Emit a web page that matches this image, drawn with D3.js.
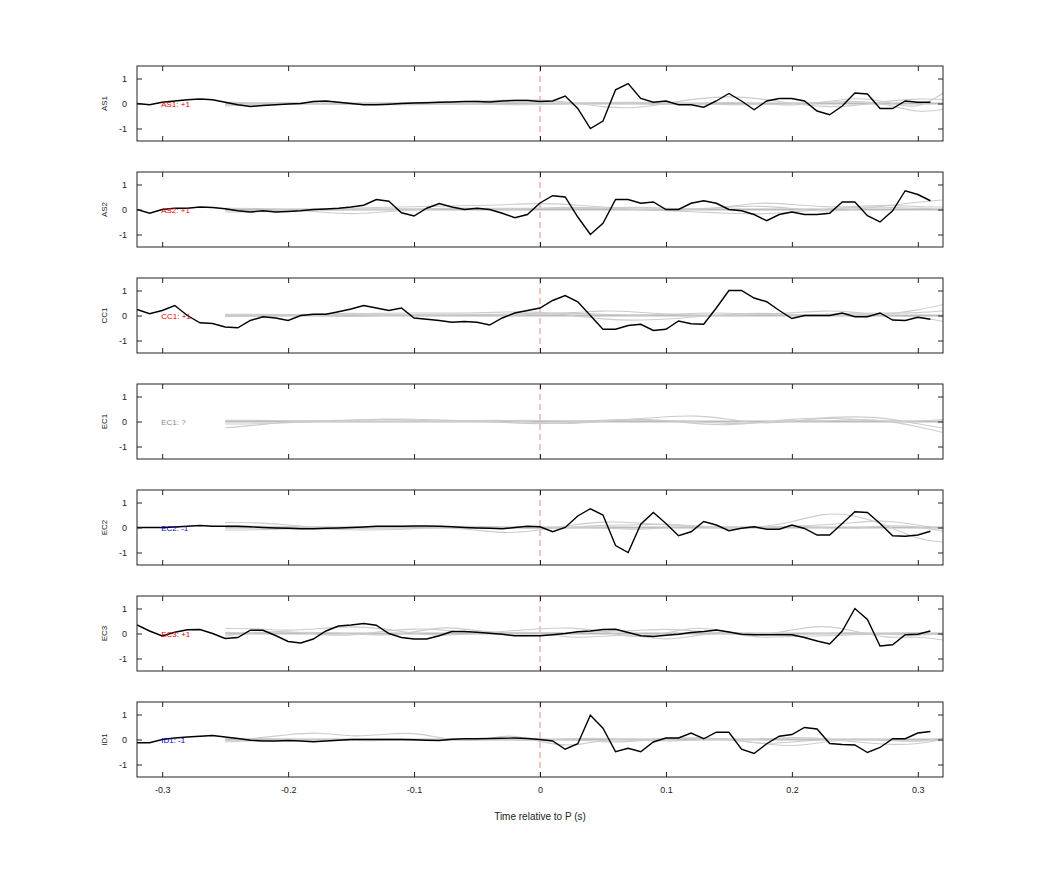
<!DOCTYPE html>
<html>
<head>
<meta charset="utf-8">
<script src="https://cdn.jsdelivr.net/npm/d3@7"></script>
<style>
  body { margin: 0; background: #fff; }
  text { font-family: "Liberation Sans", Arial, sans-serif; }
</style>
</head>
<body>
<svg id="chart" width="1042" height="875"></svg>
<script>
// stations and their polarity labels
const stations = ["AS1", "AS2", "CC1", "EC1", "EC2", "EC3", "ID1"];
const polarity = ["+1", "+1", "+1", "?", "-1", "+1", "-1"];
const xTicks = [-0.3, -0.2, -0.1, 0, 0.1, 0.2, 0.3];
const yTicks = [-1, 0, 1];

// black trace: t = -0.32 .. 0.31 every 0.01
const traceTimes = d3.range(64).map(i => +(-0.32 + i * 0.01).toFixed(2));
const AS1 = [0,-0.05,0.05,0.1,0.15,0.18,0.15,0.05,-0.05,-0.12,
  -0.08,-0.05,-0.02,0.0,0.08,0.1,0.05,0,-0.05,-0.05,
  -0.03,0,0.02,0.03,0.05,0.06,0.08,0.08,0.06,0.1,
  0.12,0.12,0.08,0.1,0.3,-0.2,-1.0,-0.7,0.55,0.8,
  0.2,0.05,0.1,-0.05,-0.05,-0.15,0.1,0.4,0.1,-0.25,
  0.1,0.2,0.2,0.1,-0.3,-0.45,-0.1,0.42,0.38,-0.2,
  -0.2,0.1,0.05,0.05];
const AS2 = [0,-0.15,0,0.05,0.05,0.1,0.08,0.03,-0.05,-0.1,-0.05,-0.1,-0.08,-0.05,0.0,0.02,0.05,0.1,0.17,
  0.4,0.33,-0.13,-0.26,0.05,0.24,0.1,0,0.05,0,-0.15,-0.33,-0.2,
  0.26,0.55,0.5,-0.3,-1.0,-0.55,0.4,0.4,0.25,0.3,0.0,0,0.25,0.35,0.25,0.0,-0.05,-0.2,-0.45,-0.2,
  -0.1,-0.2,-0.2,-0.15,0.3,0.3,-0.25,-0.5,-0.05,0.75,0.6,0.35];
const CC1 = [0.24,0.07,0.2,0.4,0.0,-0.29,-0.32,-0.46,-0.49,-0.2,-0.05,-0.1,-0.2,0.0,0.05,0.05,
  0.15,0.26,0.4,0.3,0.2,0.3,-0.1,-0.15,-0.2,-0.27,-0.24,-0.27,-0.38,-0.1,0.1,0.2,
  0.3,0.6,0.8,0.55,0,-0.55,-0.55,-0.4,-0.35,-0.6,-0.55,-0.22,-0.33,-0.35,0.3,1.0,
  1.0,0.7,0.55,0.2,-0.12,0,0,0,0.1,-0.05,-0.05,0.1,-0.18,-0.2,-0.07,-0.15];
const EC2 = [0,0,0,0.02,0.05,0.08,0.05,0.05,0.05,0.03,0,-0.02,-0.03,-0.05,-0.05,-0.03,
  -0.02,0,0.02,0.05,0.05,0.05,0.06,0.06,0.05,0.03,0,-0.02,-0.03,-0.05,0,0.05,
  0.03,-0.17,0,0.46,0.75,0.5,-0.72,-1.0,0.13,0.6,0.16,-0.33,-0.17,0.24,0.1,-0.13,
  -0.03,0.03,-0.07,-0.07,0.1,-0.04,-0.3,-0.3,0.16,0.63,0.6,0.16,-0.33,-0.35,-0.3,-0.15];
const EC3 = [0.34,0.1,-0.1,0.05,0.15,0.16,0,-0.2,-0.16,0.13,0.13,-0.08,-0.32,-0.38,-0.22,0.1,
  0.3,0.34,0.4,0.33,0,-0.16,-0.22,-0.22,-0.09,0.08,0.08,0.05,0.01,-0.03,-0.09,-0.09,
  -0.09,-0.05,0,0.07,0.1,0.16,0.17,0.04,-0.09,-0.12,-0.07,-0.03,0.04,0.08,0.14,0.06,
  -0.03,-0.05,-0.05,-0.05,-0.05,-0.16,-0.3,-0.42,0.1,1.0,0.56,-0.5,-0.45,-0.05,-0.03,0.1];
const ID1 = [-0.13,-0.13,0,0.06,0.1,0.13,0.16,0.1,0.04,-0.03,-0.06,-0.06,-0.04,-0.06,-0.09,-0.06,
  -0.03,0,0,0,0,0,-0.01,-0.03,-0.04,0.01,0.03,0.03,0.04,0.05,0.06,0.04,
  0,-0.06,-0.39,-0.17,0.97,0.45,-0.49,-0.35,-0.49,-0.1,0.06,0.06,0.26,0.03,0.29,0.29,
  -0.39,-0.56,-0.17,0.13,0.2,0.48,0.42,-0.16,-0.2,-0.22,-0.52,-0.32,0.03,0.03,0.26,0.32];
const blackTraces = [AS1, AS2, CC1, null, EC2, EC3, ID1];

// gray comparison traces: t = -0.25 .. 0.325 every 0.025
const grayTimes = d3.range(24).map(i => +(-0.25 + i * 0.025).toFixed(3));
const grayTraces = [
  [[0,0,0,0,0,0,0,0,0,0,0,0,0,0,0,0,0,0,0,0,0,0,0,0],
   [-0.05,0,0.05,0,-0.05,0,0.05,0.05,0.1,0.15,0.15,0.05,-0.15,-0.2,0,0.2,0.3,0.2,0,-0.15,-0.1,0.1,0.2,0.15],
   [0.05,0.03,0,-0.03,0,0.03,0,-0.02,0,0.05,0.02,0,0.03,0,-0.05,0,0.05,0,-0.1,0.05,0.25,0.1,-0.3,0.6],
   [-0.1,-0.05,0,0,-0.03,-0.05,-0.05,-0.03,-0.03,-0.05,-0.05,0,0.05,0.05,0.02,-0.02,-0.05,-0.05,0,0.05,0.1,0,-0.4,-0.2]],
  [[0,0,0,0,0,0,0,0,0,0,0,0,0,0,0,0,0,0,0,0,0,0,0,0],
   [-0.1,-0.1,-0.05,0,0.05,0.1,0.1,0.15,0.15,0.2,0.25,0.2,0.1,0.0,-0.05,0,0.1,0.15,0.05,-0.1,0,0.15,0.3,0.4],
   [0.05,0.05,0,-0.1,-0.2,-0.1,0,0.05,0.05,0.0,0.05,0.1,0.05,0,-0.05,-0.1,-0.15,-0.2,-0.1,0,0.1,0.1,0.05,0],
   [-0.05,-0.05,-0.03,-0.03,0,0,0.02,0.05,0.05,0.05,0.05,0.03,0.05,0.1,0.05,0,0.1,0.3,0.2,0.1,0.1,0.2,0.1,0.1]],
  [[0,0,0,0,0,0,0,0,0,0,0,0,0,0,0,0,0,0,0,0,0,0,0,0],
   [-0.05,0,0.05,0.05,0.05,0.1,0.1,0.1,0.1,0.15,0.15,0.0,-0.15,-0.2,-0.15,-0.05,0.05,0.1,0.05,0,0,0.05,0.2,0.5],
   [0.05,0.05,0.05,0,-0.05,0,0.05,0.05,0.05,0.05,0.1,0.1,0.2,0.15,0.05,0,0,0.05,0.1,0.2,0.15,-0.05,0,-0.3],
   [0,-0.05,0,0.05,0.1,0.05,0,0,0.05,0,0.05,0.1,0.05,0,0.05,0.1,0.1,0.05,0,0.05,0.1,0.1,0.1,0.2]],
  [[0,0,0,0,0,0,0,0,0,0,0,0,0,0,0,0,0,0,0,0,0,0,0,0],
   [-0.25,-0.15,0,0.03,0.05,0.1,0.05,0,0.05,0.05,-0.05,-0.1,0,0.1,0.2,0.25,0.1,-0.1,0,0.15,0.1,0,0,0.1],
   [0.05,0.05,0.03,0,0,0,0,0,0,0.05,0.05,0,0.05,0.1,0.05,-0.1,-0.15,-0.05,0.1,0.15,0.2,0.15,-0.1,-0.3],
   [-0.1,-0.1,-0.05,0,0.05,0.1,0.1,0.05,0.02,-0.05,-0.1,-0.05,0.05,0.05,0.05,0,-0.1,-0.05,0.05,0,0.1,0.05,-0.2,-0.5]],
  [[0,0,0,0,0,0,0,0,0,0,0,0,0,0,0,0,0,0,0,0,0,0,0,0],
   [0.2,0.2,0.1,0,-0.05,0,0.05,0,-0.1,-0.25,-0.1,0.1,0.25,0.2,0.1,0.05,0,0,0.2,0.6,0.5,0.1,-0.5,-0.6],
   [-0.1,-0.1,-0.05,-0.05,-0.1,-0.1,-0.05,0,0.05,0,-0.05,0,0.1,0.1,0.15,0.05,0,0,0.05,0.1,0.2,0.3,0.1,-0.1],
   [0.05,0.05,0.05,0,0,0,0.05,0.05,0.05,0,-0.05,0,0,-0.1,0,0.05,-0.05,0,0.05,0,-0.05,0.1,0.05,-0.2]],
  [[0,0,0,0,0,0,0,0,0,0,0,0,0,0,0,0,0,0,0,0,0,0,0,0],
   [0.2,0.2,0.1,0.2,0.3,0.2,0,-0.1,0,0.1,0.2,0.25,0.1,-0.2,0,0.3,0.05,-0.1,0.15,0.35,0.1,-0.2,-0.1,-0.3],
   [-0.1,0.05,0.1,-0.05,-0.1,0.1,0.2,0.15,-0.05,0.05,0.05,-0.2,-0.1,-0.05,-0.3,-0.05,0.05,-0.2,-0.1,-0.1,-0.05,0.0,-0.1,0],
   [0.05,0,0.05,0.05,0,-0.1,0.05,0.3,0.1,0,0.05,0,0.1,0.1,0.2,0.1,0,0,-0.05,0,0.05,-0.05,0.1,-0.1]],
  [[0,0,0,0,0,0,0,0,0,0,0,0,0,0,0,0,0,0,0,0,0,0,0,0],
   [-0.05,0.05,0.2,0.3,0.1,0.2,0.3,0,-0.1,0.25,-0.1,-0.3,0,0.05,-0.1,0,0.05,-0.2,-0.1,0,0,0,-0.1,0],
   [-0.1,-0.05,0,0,-0.05,-0.05,0,0,0,0,0,0,-0.1,-0.1,0.1,0.05,0,-0.15,-0.3,-0.1,0.05,-0.05,-0.1,0.1],
   [0.05,0.05,0,0,-0.05,0,0,-0.05,0,0,-0.05,0.05,0.05,-0.05,0,0.1,0,0,0.1,0.05,-0.1,-0.2,-0.2,0.05]]
];

const left = 137, right = 943, panelH = 75, firstTop = 66, step = 106;

const svg = d3.select("#chart");
const x = d3.scaleLinear().domain([-0.32, 0.32]).range([left, right]);
const clr = { "+1": "#e00000", "-1": "#0000d0", "?": "#888" };
const plain = d => String(d);

stations.forEach((name, k) => {
  const top = firstTop + k * step;
  const y = d3.scaleLinear().domain([-1.5, 1.5]).range([top + panelH, top]);
  const g = svg.append("g");
  const clipId = "clip" + k;
  g.append("clipPath").attr("id", clipId).append("rect")
    .attr("x", left).attr("y", top).attr("width", right - left).attr("height", panelH);

  const plot = g.append("g").attr("clip-path", `url(#${clipId})`);

  // zero-time marker
  plot.append("line").attr("x1", x(0)).attr("x2", x(0)).attr("y1", top).attr("y2", top + panelH)
    .attr("stroke", "#e88").attr("stroke-dasharray", "6,4").attr("stroke-width", 1);

  const grayLine = d3.line().x((d, i) => x(grayTimes[i])).y(d => y(d)).curve(d3.curveBasis);
  grayTraces[k].forEach((tr, j) => {
    plot.append("path").attr("d", grayLine(tr)).attr("fill", "none")
      .attr("stroke", j === 0 ? "#bbb" : "#ccc").attr("stroke-width", j === 0 ? 2 : 1.1);
  });

  const bt = blackTraces[k];
  if (bt) {
    const line = d3.line().x((d, i) => x(traceTimes[i])).y(d => y(d));
    plot.append("path").attr("d", line(bt)).attr("fill", "none")
      .attr("stroke", "#000").attr("stroke-width", 1.4);
  }

  // label
  g.append("text").attr("x", x(-0.3) - 1).attr("y", y(0) + 3).attr("font-size", 8)
    .attr("fill", clr[polarity[k]]).text(`${name}: ${polarity[k]}`);

  // frame
  g.append("rect").attr("x", left).attr("y", top).attr("width", right - left).attr("height", panelH)
    .attr("fill", "none").attr("stroke", "#222").attr("stroke-width", 1);

  // axes with inward ticks
  const yl = g.append("g").attr("transform", `translate(${left},0)`)
    .call(d3.axisLeft(y).tickValues(yTicks).tickSizeInner(-5).tickSizeOuter(0).tickPadding(10).tickFormat(plain));
  const yr = g.append("g").attr("transform", `translate(${right},0)`)
    .call(d3.axisRight(y).tickValues(yTicks).tickSizeInner(-5).tickSizeOuter(0).tickFormat(""));
  const xt = g.append("g").attr("transform", `translate(0,${top})`)
    .call(d3.axisTop(x).tickValues(xTicks).tickSizeInner(-5).tickSizeOuter(0).tickFormat(""));
  const xb = g.append("g").attr("transform", `translate(0,${top + panelH})`)
    .call(d3.axisBottom(x).tickValues(xTicks).tickSizeInner(-5).tickSizeOuter(0).tickPadding(10)
      .tickFormat(k === stations.length - 1 ? plain : ""));
  [yl, yr, xt, xb].forEach(a => {
    a.select(".domain").remove();
    a.selectAll("line").attr("stroke", "#222");
    a.selectAll("text").attr("font-size", 9).attr("fill", "#222")
      .attr("font-family", "Liberation Sans, Arial, sans-serif");
  });

  g.append("text").attr("transform", `translate(${left - 30},${top + panelH / 2}) rotate(-90)`)
    .attr("text-anchor", "middle").attr("font-size", 8).attr("fill", "#222").text(name);
});

svg.append("text").attr("x", (left + right) / 2).attr("y", 820).attr("text-anchor", "middle")
  .attr("font-size", 10).attr("fill", "#222").text("Time relative to P (s)");
</script>
</body>
</html>
